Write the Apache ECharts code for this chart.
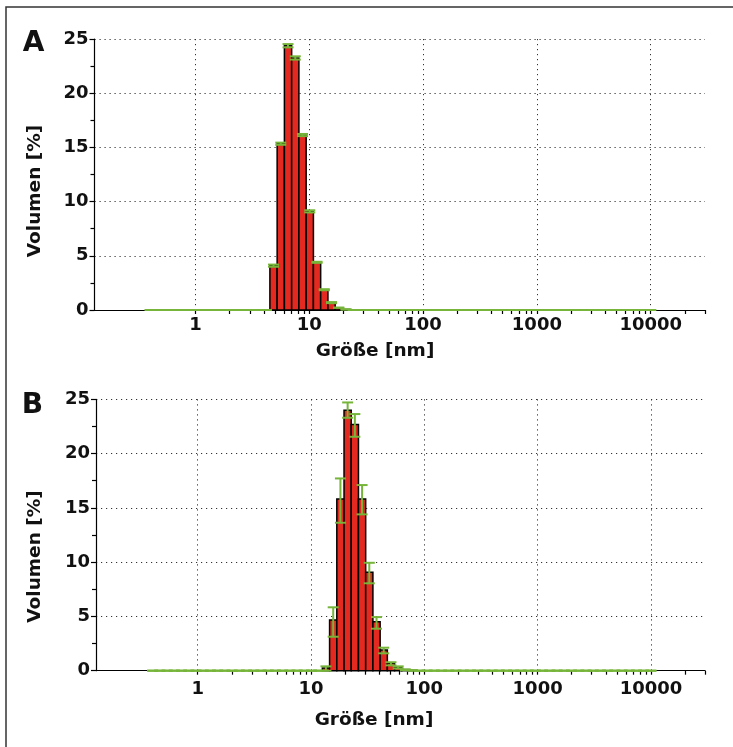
<!DOCTYPE html>
<html><head><meta charset="utf-8">
<script src="https://cdn.jsdelivr.net/npm/echarts@6/dist/echarts.min.js"></script>
<style>html,body{margin:0;padding:0;background:#fff}#c{width:733px;height:747px}</style>
</head><body><div id="c"></div>
<script>
// Size classes (nm)
const sizes = [0.4,0.4632,0.5365,0.6213,0.7195,0.8332,0.9649,1.117,1.294,1.499,
  1.736,2.01,2.328,2.696,3.122,3.615,4.187,4.849,5.615,6.503,
  7.531,8.721,10.1,11.7,13.54,15.69,18.17,21.04,24.36,28.21,
  32.67,37.84,43.82,50.75,58.77,68.06,78.82,91.28,105.7,122.4,
  141.8,164.2,190.1,220.2,255,295.3,342,396.1,458.7,531.2,
  615.1,712.4,825,955.4,1106,1281,1484,1718,1990,2305,
  2669,3091,3580,4145,4801,5560,6439,7456,8635,10000];
// Panel A volume [%]
const volA = [0,0,0,0,0,0,0,0,0,0,
  0,0,0,0,0,0,0,4.09,15.34,24.38,
  23.25,16.14,9.1,4.4,1.87,0.68,0.21,0.05,0,0,
  0,0,0,0,0,0,0,0,0,0,
  0,0,0,0,0,0,0,0,0,0,
  0,0,0,0,0,0,0,0,0,0,
  0,0,0,0,0,0,0,0,0,0];
// Panel A standard deviation
const sdA = [0,0,0,0,0,0,0,0,0,0,
  0,0,0,0,0,0,0,0.1,0.1,0.15,
  0.15,0.1,0.1,0.05,0.05,0.05,0,0,0,0,
  0,0,0,0,0,0,0,0,0,0,
  0,0,0,0,0,0,0,0,0,0,
  0,0,0,0,0,0,0,0,0,0,
  0,0,0,0,0,0,0,0,0,0];
// Panel B volume [%]
const volB = [0,0,0,0,0,0,0,0,0,0,
  0,0,0,0,0,0,0,0,0,0,
  0,0,0,0,0.25,4.67,15.81,24.0,22.69,15.81,
  9.06,4.51,1.9,0.69,0.3,0.1,0.03,0,0,0,
  0,0,0,0,0,0,0,0,0,0,
  0,0,0,0,0,0,0,0,0,0,
  0,0,0,0,0,0,0,0,0,0];
// Panel B error bar ends (low / high)
const lowB = [0,0,0,0,0,0,0,0,0,0,
  0,0,0,0,0,0,0,0,0,0,
  0,0,0,0,0,3.13,13.63,23.3,21.55,14.4,
  8.05,3.87,1.6,0.49,0.2,0.05,0,0,0,0,
  0,0,0,0,0,0,0,0,0,0,
  0,0,0,0,0,0,0,0,0,0,
  0,0,0,0,0,0,0,0,0,0];
const highB = [0,0,0,0,0,0,0,0,0,0,
  0,0,0,0,0,0,0,0,0,0,
  0,0,0,0,0.4,5.84,17.71,24.71,23.64,17.1,
  9.94,4.94,2.12,0.78,0.4,0.12,0.05,0,0,0,
  0,0,0,0,0,0,0,0,0,0,
  0,0,0,0,0,0,0,0,0,0,
  0,0,0,0,0,0,0,0,0,0];
const xLabelValues = [1,10,100,1000,10000];
const xTickValues = [1,2,3,4,5,6,7,8,9,10,20,30,40,50,60,70,80,90,100,200,300,400,500,600,700,800,900,
  1000,2000,3000,4000,5000,6000,7000,8000,9000,10000,20000,30000];

const FONT = 'DejaVu Sans';
const RED = '#e42a20', GREEN = '#76b53a';

function binEdges(i){
  const n = sizes.length;
  const lo = i === 0 ? sizes[0] / Math.sqrt(sizes[1]/sizes[0]) : Math.sqrt(sizes[i-1]*sizes[i]);
  const hi = i === n-1 ? sizes[i] * Math.sqrt(sizes[i]/sizes[i-1]) : Math.sqrt(sizes[i]*sizes[i+1]);
  return [lo, hi];
}
function barData(vals){ return sizes.map((s,i)=>{ const e=binEdges(i); return [s, vals[i], e[0], e[1]]; }); }

function renderBar(params, api){
  const v = api.value(1);
  if (!(v > 0)) return null;
  const p0 = api.coord([api.value(2), 0]);
  const p1 = api.coord([api.value(3), v]);
  return { type:'rect', shape:{x:p0[0], y:p1[1], width:p1[0]-p0[0], height:p0[1]-p1[1]},
    style:{fill:RED, stroke:'#000', lineWidth:1.5} };
}
function renderErr(params, api){
  const s = api.value(0);
  const top = api.coord([s, api.value(2)]);
  const bot = api.coord([s, api.value(1)]);
  const h = 5.5;
  const st = {stroke:GREEN, lineWidth:2};
  const ch = [
    {type:'line', shape:{x1:top[0]-h, y1:top[1], x2:top[0]+h, y2:top[1]}, style:st},
    {type:'line', shape:{x1:bot[0]-h, y1:bot[1], x2:bot[0]+h, y2:bot[1]}, style:st}
  ];
  if (bot[1]-top[1] > 1) ch.push({type:'line', shape:{x1:top[0], y1:top[1], x2:bot[0], y2:bot[1]}, style:st});
  return {type:'group', children:ch};
}

const dotted = {color:'#333', width:1, type:[1.2,3.8]};
function xAxes(grid, min, margin){
  return [
    {type:'log', gridIndex:grid, min:min, max:30000, logBase:10,
     axisLine:{show:true, lineStyle:{color:'#000', width:1.2}},
     axisTick:{show:true, length:4, customValues:xTickValues, lineStyle:{color:'#000', width:1.2}},
     axisLabel:{show:true, customValues:xLabelValues, margin:margin, color:'#111', fontFamily:FONT, fontWeight:'bold', fontSize:18,
       formatter:function(v){ return String(Math.round(v)); }},
     splitLine:{show:false}},
    {type:'log', gridIndex:grid, min:min, max:30000, logBase:10,
     axisLine:{show:false}, axisTick:{show:false, customValues:xLabelValues},
     axisLabel:{show:false}, splitLine:{show:true, lineStyle:dotted}}
  ];
}
function yAxis(grid){
  return {type:'value', gridIndex:grid, min:0, max:25, interval:5,
    axisLine:{show:true, lineStyle:{color:'#000', width:1.2}},
    axisTick:{show:true, length:5, lineStyle:{color:'#000', width:1.2}},
    minorTick:{show:true, splitNumber:2, length:4, lineStyle:{color:'#000', width:1.2}},
    axisLabel:{margin:6, color:'#111', fontFamily:FONT, fontWeight:'bold', fontSize:18},
    splitLine:{show:true, lineStyle:dotted}};
}
function label(text, x, y, size, rot){
  return {type:'text', x:x, y:y, rotation:rot||0,
    style:{text:text, fill:'#111', font:'bold '+size+'px "'+FONT+'"', textAlign:'center', textVerticalAlign:'middle'}};
}

const chart = echarts.init(document.getElementById('c'), null, {renderer:'canvas'});
chart.setOption({
  animation:false,
  grid:[{left:94.5, top:39, width:610.5, height:271},
        {left:96, top:399.3, width:609, height:271.4}],
  xAxis:[...xAxes(0, 0.1296, 6), ...xAxes(1, 0.1265, 10)],
  yAxis:[yAxis(0), yAxis(1)],
  series:[
    {type:'custom', xAxisIndex:0, yAxisIndex:0, renderItem:renderBar, data:barData(volA), encode:{x:0,y:1}, z:2},
    {type:'custom', xAxisIndex:0, yAxisIndex:0, renderItem:renderErr,
     data:sizes.map((s,i)=>[s, volA[i]-sdA[i], volA[i]+sdA[i]]), encode:{x:0,y:[1,2]}, z:3},
    {type:'custom', xAxisIndex:2, yAxisIndex:1, renderItem:renderBar, data:barData(volB), encode:{x:0,y:1}, z:2},
    {type:'custom', xAxisIndex:2, yAxisIndex:1, renderItem:renderErr,
     data:sizes.map((s,i)=>[s, lowB[i], highB[i]]), encode:{x:0,y:[1,2]}, z:3}
  ],
  graphic:[
    {type:'rect', shape:{x:6, y:7, width:900, height:900}, style:{fill:'none', stroke:'#333', lineWidth:1.5}, silent:true},
    label('A', 33.5, 43.5, 28),
    label('B', 32.5, 406, 28),
    label('Volumen [%]', 35.5, 191, 18.5, Math.PI/2),
    label('Volumen [%]', 35.5, 556.5, 18.5, Math.PI/2),
    label('Größe [nm]', 375, 351, 18.5),
    label('Größe [nm]', 374, 720, 18.5)
  ]
});
</script></body></html>
